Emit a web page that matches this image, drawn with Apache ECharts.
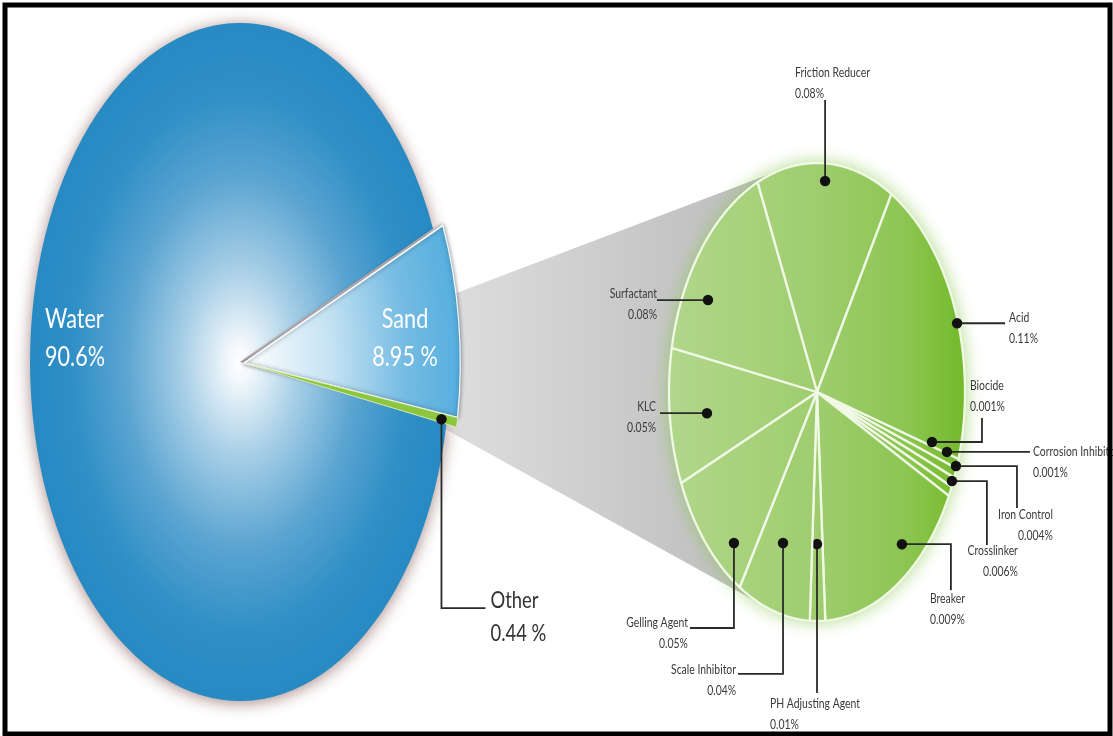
<!DOCTYPE html>
<html lang="en">
<head>
    <meta charset="UTF-8">
    <title>Fracturing Fluid Composition</title>
    <style>
        html, body { margin: 0; padding: 0; background: #fff; }
        #chart-container { width: 1113px; height: 736px; }
    </style>
</head>
<body>
    <div id="chart-container"></div>
    <script src="https://cdn.jsdelivr.net/npm/echarts/dist/echarts.min.js"></script>
    <script>
      // volume share of the fluid, percent
      const mixNames = ['Water', 'Sand', 'Other'];
      const mixPct = [90.6, 8.95, 0.44];

      // breakdown of "Other", percent of the whole fluid
      const additiveNames = ['Friction Reducer', 'Acid', 'Biocide', 'Corrosion Inhibitor', 'Iron Control',
        'Crosslinker', 'Breaker', 'PH Adjusting Agent', 'Scale Inhibitor', 'Gelling Agent', 'KLC', 'Surfactant'];
      const additivePct = [0.08, 0.11, 0.001, 0.001, 0.004, 0.006, 0.009, 0.01, 0.04, 0.05, 0.05, 0.08];
      // slice sizes as they are drawn in the breakdown pie (degrees, not to scale)
      const additiveDeg = [53.9, 76.8, 2.5, 2.5, 2.5, 2.5, 59.8, 6, 28.7, 35.1, 34.5, 55.2];

      // ---- layout ----
      const FONT = 'Lato, "Liberation Sans", sans-serif';
      const TEXT_SQUEEZE = 0.8;   // narrow the type like the original condensed face
      const mixPie = { cx: 240, cy: 362, rx: 210, ry: 339, startAngle: -10.6, explode: [4, 1], grow: 1.03 };
      const addPie = { cx: 817, cy: 392, rx: 148, ry: 229, startAngle: 113.7 };
      const mixUnit = ['%', ' %', ' %'];

      // callouts: dot at [angle, radius fraction], leader legs, text offset from leader end
      const mixCallout = [
        { text: [-195, -62], align: 'left', color: '#fff', size: 27, lh: 38 },
        { text: [161, -63], align: 'center', color: '#fff', size: 27, lh: 38 },
        { at: [-10, 0.927], legs: [[0, 189], [44, 0]], text: [5, -24], align: 'left', color: '#333', size: 23, lh: 33 }
      ];
      const additiveCallout = [
        { at: [86.6, 0.923], legs: [[0, -81]], text: [-30, 4], align: 'left', v: 'bottom' },
        { at: [17.6, 0.993], legs: [[48, 0]], text: [4, -16], align: 'left', v: 'top' },
        { at: [-15.7, 0.807], legs: [[50, 0], [0, -24]], text: [-12, -1], align: 'left', v: 'bottom' },
        { at: [-16.6, 0.916], legs: [[83, 0]], text: [3, -11], align: 'left', v: 'top' },
        { at: [-19.0, 0.993], legs: [[61, 0], [0, 42]], text: [36, -4], align: 'right', v: 'top' },
        { at: [-23.1, 0.991], legs: [[35, 0], [0, 64]], text: [31, -5], align: 'right', v: 'top' },
        { at: [-49.2, 0.878], legs: [[49, 0], [0, 46]], text: [-21, -2], align: 'left', v: 'top' },
        { at: [-90, 0.664], legs: [[0, 149]], text: [-47, 0], align: 'left', v: 'top' },
        { at: [-109.2, 0.698], legs: [[0, 131], [-45, 0]], text: [-2, -15], align: 'right', v: 'top' },
        { at: [-130.4, 0.866], legs: [[0, 85], [-44, 0]], text: [-2, -16], align: 'right', v: 'top' },
        { at: [-172.9, 0.749], legs: [[-47, 0]], text: [-4, -17], align: 'right', v: 'top' },
        { at: [151.4, 0.839], legs: [[-51, 0]], text: [0, -17], align: 'right', v: 'top' }
      ];

      const rad = Math.PI / 180;
      function pt(p, deg, f) {
        return [p.cx + p.rx * f * Math.cos(deg * rad), p.cy - p.ry * f * Math.sin(deg * rad)];
      }
      function spans(values, start, total) {
        let a = start;
        return values.map(function (v) { const s = a; a -= v / total * 360; return [s, a]; });
      }
      const mixTotal = mixPct.reduce((s, v) => s + v, 0);
      const mixAngles = spans(mixPct, mixPie.startAngle, mixTotal);
      const addAngles = spans(additiveDeg, addPie.startAngle, 360);

      function calloutEls(start, c, label, color, size, lh) {
        const els = [];
        let end = start;
        if (c.legs) {
          const pts = [start.slice()];
          c.legs.forEach(function (l) { end = [end[0] + l[0], end[1] + l[1]]; pts.push(end); });
          els.push({ type: 'polyline', shape: { points: pts }, style: { stroke: '#2a2a2a', lineWidth: 1.8, fill: null } });
          els.push({ type: 'circle', shape: { cx: start[0], cy: start[1], r: 5.2 }, style: { fill: '#111' } });
        }
        els.push({
          type: 'text', x: end[0] + c.text[0], y: end[1] + c.text[1], scaleX: TEXT_SQUEEZE, z2: 5,
          style: {
            text: label, fill: color, font: size + 'px ' + FONT, lineHeight: lh,
            align: c.align, textAlign: c.align,
            verticalAlign: c.v || 'top', textVerticalAlign: c.v || 'top'
          }
        });
        return els;
      }

      function renderMix(params) {
        const i = params.dataIndex;
        const a = mixAngles[i];
        const out = i > 0;
        const p = {
          cx: mixPie.cx + (out ? mixPie.explode[0] : 0),
          cy: mixPie.cy + (out ? mixPie.explode[1] : 0),
          rx: mixPie.rx * (out ? mixPie.grow : 1),
          ry: mixPie.ry * (out ? mixPie.grow : 1)
        };
        let style;
        if (i === 0) {
          style = {
            fill: new echarts.graphic.RadialGradient(0, 0, p.ry, [
              { offset: 0, color: '#ffffff' }, { offset: 0.06, color: '#f1f7fb' },
              { offset: 0.28, color: '#a6cee6' }, { offset: 0.55, color: '#5aa4d1' },
              { offset: 0.8, color: '#2f8fc6' }, { offset: 1, color: '#278ac3' }
            ], true),
            shadowBlur: 16, shadowColor: 'rgba(110,60,55,0.6)', shadowOffsetY: 2
          };
        } else if (i === 1) {
          style = {
            fill: new echarts.graphic.RadialGradient(0, 0, p.ry, [
              { offset: 0, color: '#ffffff' }, { offset: 0.4, color: '#c6e3f3' },
              { offset: 0.75, color: '#74bbe3' }, { offset: 1, color: '#56afde' }
            ], true),
            stroke: '#f4fafd', lineWidth: 2, strokeNoScale: true,
            shadowBlur: 4, shadowColor: 'rgba(30,40,60,0.55)'
          };
        } else {
          style = { fill: '#8cc540', stroke: '#e2f0b8', lineWidth: 1, strokeNoScale: true };
        }
        const children = [{
          type: 'group', x: p.cx, y: p.cy, scaleX: p.rx / p.ry, scaleY: 1,
          children: [{
            type: 'sector',
            shape: { cx: 0, cy: 0, r: p.ry, r0: 0, startAngle: -a[0] * rad, endAngle: -a[1] * rad, clockwise: true },
            style: style
          }]
        }];
        const c = mixCallout[i];
        const start = c.at ? pt(p, c.at[0], c.at[1]) : [p.cx, p.cy];
        const label = mixNames[i] + '\n' + mixPct[i] + mixUnit[i];
        return { type: 'group', children: children.concat(calloutEls(start, c, label, c.color, c.size, c.lh)) };
      }

      const greenFill = new echarts.graphic.LinearGradient(addPie.cx - addPie.rx, 0, addPie.cx + addPie.rx, 0, [
        { offset: 0, color: '#b1d78b' }, { offset: 0.5, color: '#9fcd6e' },
        { offset: 0.8, color: '#8cc652' }, { offset: 1, color: '#74b92a' }
      ], true);

      function renderAdditive(params) {
        const i = params.dataIndex;
        const a = addAngles[i];
        const n = Math.max(2, Math.ceil(a[0] - a[1]));
        const pts = [[addPie.cx, addPie.cy]];
        for (let k = 0; k <= n; k++) pts.push(pt(addPie, a[0] - (a[0] - a[1]) * k / n, 1));
        const c = additiveCallout[i];
        const label = additiveNames[i] + '\n' + additivePct[i] + '%';
        return {
          type: 'group',
          children: [{
            type: 'polygon', shape: { points: pts },
            style: { fill: greenFill, stroke: '#f0f8e6', lineWidth: 2.3, lineJoin: 'round' }
          }].concat(calloutEls(pt(addPie, c.at[0], c.at[1]), c, label, '#3a3a3a', 13, 21))
        };
      }

      // grey funnel from the "Other" slice to the breakdown pie (tangent lines, screen coords)
      function tangents(from, p) {
        const u = [(from[0] - p.cx) / p.rx, (from[1] - p.cy) / p.ry];
        const d = Math.hypot(u[0], u[1]);
        const base = Math.atan2(u[1], u[0]);
        const off = Math.acos(1 / d);
        return [base - off, base + off].map(t => [p.cx + p.rx * Math.cos(t), p.cy + p.ry * Math.sin(t)]);
      }
      const sandP = { cx: mixPie.cx + mixPie.explode[0], cy: mixPie.cy + mixPie.explode[1], rx: mixPie.rx * mixPie.grow, ry: mixPie.ry * mixPie.grow };
      const fTop = pt(sandP, 11.5, 0.99);
      const fBot = pt(mixPie, -11.5, 1.0);
      const tTop = tangents(fTop, addPie)[1];
      const tBot = tangents(fBot, addPie)[0];

      var dom = document.getElementById('chart-container');
      var myChart = echarts.init(dom, null, { renderer: 'canvas' });

      var option = {
        animation: false,
        backgroundColor: '#ffffff',
        graphic: [
          {
            type: 'polygon', z: 0, silent: true,
            shape: { points: [fTop, tTop, tBot, fBot] },
            style: {
              fill: new echarts.graphic.LinearGradient(fTop[0], 0, tTop[0], 0, [
                { offset: 0, color: '#dddddd' }, { offset: 1, color: '#b9b9b9' }
              ], true)
            }
          },
          {
            type: 'ellipse', z: 1, silent: true,
            shape: { cx: addPie.cx, cy: addPie.cy, rx: addPie.rx, ry: addPie.ry },
            style: { fill: '#cfe8b0', shadowBlur: 18, shadowColor: 'rgba(135,200,75,0.75)' }
          },
          {
            type: 'rect', z: 20, silent: true,
            shape: { x: 5, y: 5, width: 1105, height: 729 },
            style: { fill: null, stroke: '#000', lineWidth: 5 }
          }
        ],
        series: [
          {
            type: 'custom', name: 'Fluid', coordinateSystem: 'none', z: 3, silent: true,
            renderItem: renderMix,
            data: mixPct.map(v => [v])
          },
          {
            type: 'custom', name: 'Other', coordinateSystem: 'none', z: 3, silent: true,
            renderItem: renderAdditive,
            data: additivePct.map(v => [v])
          }
        ]
      };

      myChart.setOption(option);
      window.addEventListener('resize', myChart.resize);
    </script>
</body>
</html>
